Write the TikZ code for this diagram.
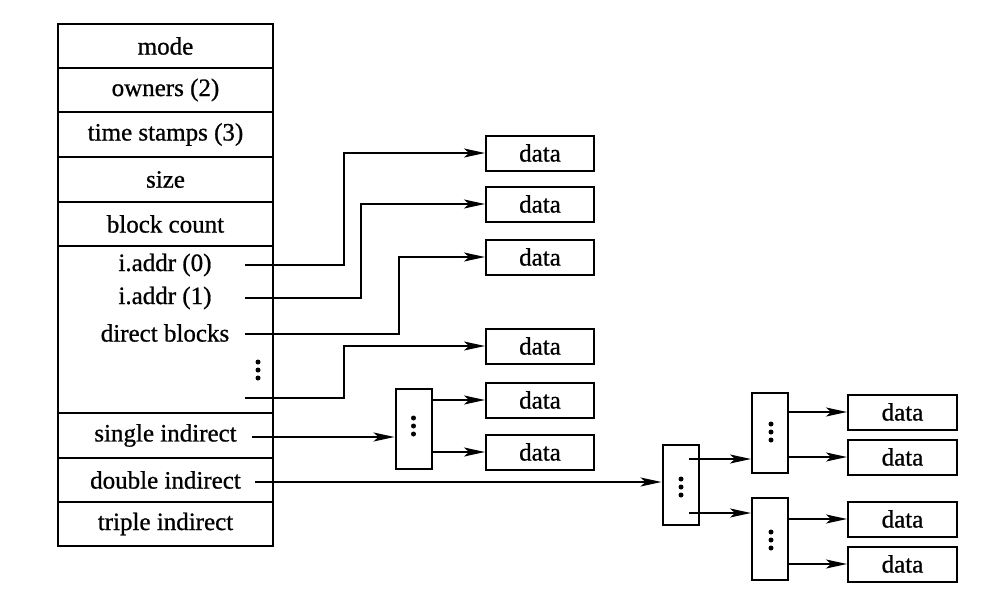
\documentclass[tikz,border=0pt]{standalone}
\usepackage{fontspec}
\setmainfont{Liberation Serif}[FakeBold=0.8]
\usetikzlibrary{arrows.meta,calc}
\begin{document}
\begin{tikzpicture}[x=1pt,y=-1pt,
  every node/.style={font=\fontsize{25}{28}\selectfont, inner sep=0pt},
  row/.style={draw, line width=2pt, minimum width=215pt, anchor=center},
  databox/.style={draw, line width=2pt, minimum width=108pt, minimum height=35pt},
  ptrbox/.style={draw, line width=2pt, minimum width=36pt, minimum height=80pt},
  arr/.style={line width=1.7pt, -{Stealth[length=21pt,width=9pt,inset=5pt]}},
  threedots/.pic={\foreach \d in {-8,0,8} \fill (0,\d) circle (2.5);}
]
\useasboundingbox (0,0) rectangle (983,597);
% main table
\node[row, minimum height=44pt] (mode) at (165.5,46) {mode};
\node[row, minimum height=44pt] (owners) at (165.5,90) {owners (2)};
\node[row, minimum height=45pt] (time) at (165.5,134.5) {time stamps (3)};
\node[row, minimum height=45pt] (size) at (165.5,179.5) {size};
\node[row, minimum height=44pt] (block) at (165.5,224) {block count};
\node[row, minimum height=167pt] (direct) at (165.5,329.5) {};
\node[row, minimum height=45pt] (single) at (165.5,435.5) {single indirect};
\node[row, minimum height=44pt] (double) at (165.5,480) {double indirect};
\node[row, minimum height=44pt] (triple) at (165.5,524) {triple indirect};
% texts in the direct region
\node (a0) at (165,265) {i.addr (0)};
\node (a1) at (165,298) {i.addr (1)};
\node (db) at (165,333) {direct blocks};
\pic at (258,370) {threedots};
% connector start points
\coordinate (p0) at (245,265);
\coordinate (p1) at (245,298);
\coordinate (p2) at (245,334);
\coordinate (p3) at (245,398);
\coordinate (ps) at (252,437);
\coordinate (pd) at (255,482);
% data boxes, first column
\node[databox] (d1) at (540,153) {data};
\node[databox] (d2) at (540,204) {data};
\node[databox] (d3) at (540,257) {data};
\node[databox] (d4) at (540,346) {data};
\node[databox] (d5) at (540,400) {data};
\node[databox] (d6) at (540,452) {data};
% pointer blocks
\node[ptrbox] (ib1) at (413.5,429) {};
\pic at (413.5,426) {threedots};
\node[ptrbox] (ib2) at (680.5,485) {};
\pic at (681,487) {threedots};
\node[ptrbox] (ib3) at (770,433) {};
\pic at (771,432) {threedots};
\node[ptrbox, minimum height=82pt] (ib4) at (770,539) {};
\pic at (771,540) {threedots};
% data boxes, second column
\node[databox, minimum width=109pt] (e1) at (902.5,412) {data};
\node[databox, minimum width=109pt] (e2) at (902.5,457) {data};
\node[databox, minimum width=109pt] (e3) at (902.5,519) {data};
\node[databox, minimum width=109pt] (e4) at (902.5,564) {data};
% direct connectors
\draw[arr] (p0) -- (344,265) |- (d1.west);
\draw[arr] (p1) -- (361,298) |- (d2.west);
\draw[arr] (p2) -- (399,334) |- (d3.west);
\draw[arr] (p3) -- (344,398) |- (d4.west);
% single indirect
\draw[arr] (ps) -- (ps -| ib1.west);
\draw[arr] (ib1.east |- d5) -- (d5.west);
\draw[arr] (ib1.east |- d6) -- (d6.west);
% double indirect
\draw[arr] (pd) -- (pd -| ib2.west);
\coordinate (q1) at (689,459);
\coordinate (q2) at (689,513);
\draw[arr] (q1) -- (q1 -| ib3.west);
\draw[arr] (q2) -- (q2 -| ib4.west);
\draw[arr] (ib3.east |- e1) -- (e1.west);
\draw[arr] (ib3.east |- e2) -- (e2.west);
\draw[arr] (ib4.east |- e3) -- (e3.west);
\draw[arr] (ib4.east |- e4) -- (e4.west);
\end{tikzpicture}
\end{document}
